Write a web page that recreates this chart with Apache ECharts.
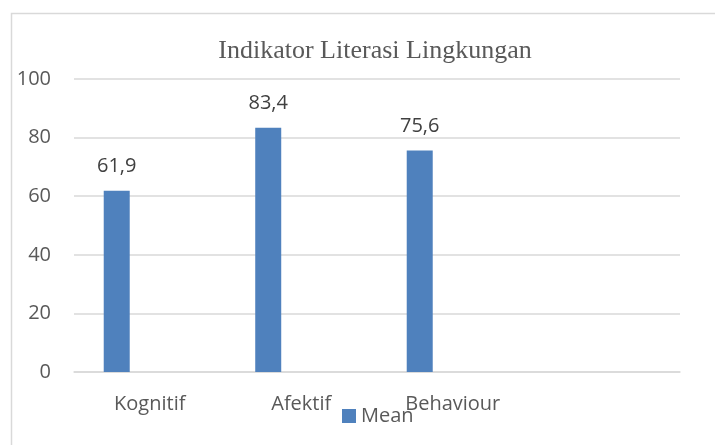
<!DOCTYPE html>
<html>
<head>
<meta charset="utf-8">
<script src="https://cdn.jsdelivr.net/npm/echarts@6/dist/echarts.min.js"></script>
<style>html,body{margin:0;padding:0;background:#fff;}#c{width:715px;height:445px;}</style>
</head>
<body>
<div id="c"></div>
<script>
var categories = ['Kognitif', 'Afektif', 'Behaviour', ''];
var meanValues = [61.9, 83.4, 75.6, null];
var emptyValues = [null, null, null, null];
var yTicks = [0, 20, 40, 60, 80, 100];

var chart = echarts.init(document.getElementById('c'));
var sans = '"Open Sans", "Liberation Sans", sans-serif';
chart.setOption({
  animation: false,
  backgroundColor: '#ffffff',
  graphic: [{
    type: 'rect', shape: {x: 11.5, y: 13.5, width: 720, height: 450},
    style: {fill: 'none', stroke: '#d9d9d9', lineWidth: 1.5}, silent: true
  }],
  title: {
    text: 'Indikator Literasi Lingkungan',
    left: 370, top: 33, textAlign: 'center',
    textStyle: {fontFamily: '"Liberation Serif", "DejaVu Serif", serif', fontWeight: 'normal', fontSize: 26, color: '#595959'}
  },
  legend: {
    data: [{name: 'Mean', icon: 'rect'}], left: 337, top: 401, itemWidth: 14, itemHeight: 14, itemGap: 4,
    textStyle: {fontFamily: sans, fontSize: 20, color: '#595959', padding: [4, 0, 0, 0]}
  },
  grid: {left: 74, right: 35, top: 79, bottom: 73, containLabel: false},
  xAxis: {
    type: 'category', data: categories,
    axisLine: {show: true, lineStyle: {color: '#d9d9d9', width: 1.5}},
    axisTick: {show: false},
    axisLabel: {fontFamily: sans, fontSize: 20, color: '#595959', margin: 22}
  },
  yAxis: {
    type: 'value', min: yTicks[0], max: yTicks[yTicks.length - 1], interval: 20,
    axisLine: {show: false}, axisTick: {show: false},
    splitLine: {lineStyle: {color: '#d9d9d9', width: 1.5}},
    axisLabel: {fontFamily: sans, fontSize: 20, color: '#595959', margin: 23}
  },
  series: [
    {
      name: 'Mean', type: 'bar', data: meanValues, barWidth: 26, barGap: '27%',
      itemStyle: {color: '#4f81bd'},
      label: {
        show: true, position: 'top', distance: 14,
        fontFamily: sans, fontSize: 20, color: '#404040',
        formatter: function (p) { return String(p.value).replace('.', ','); }
      }
    },
    {name: 's2', type: 'bar', data: emptyValues, barWidth: 26, barGap: '27%'},
    {name: 's3', type: 'bar', data: emptyValues, barWidth: 26, barGap: '27%'}
  ]
});
</script>
</body>
</html>
